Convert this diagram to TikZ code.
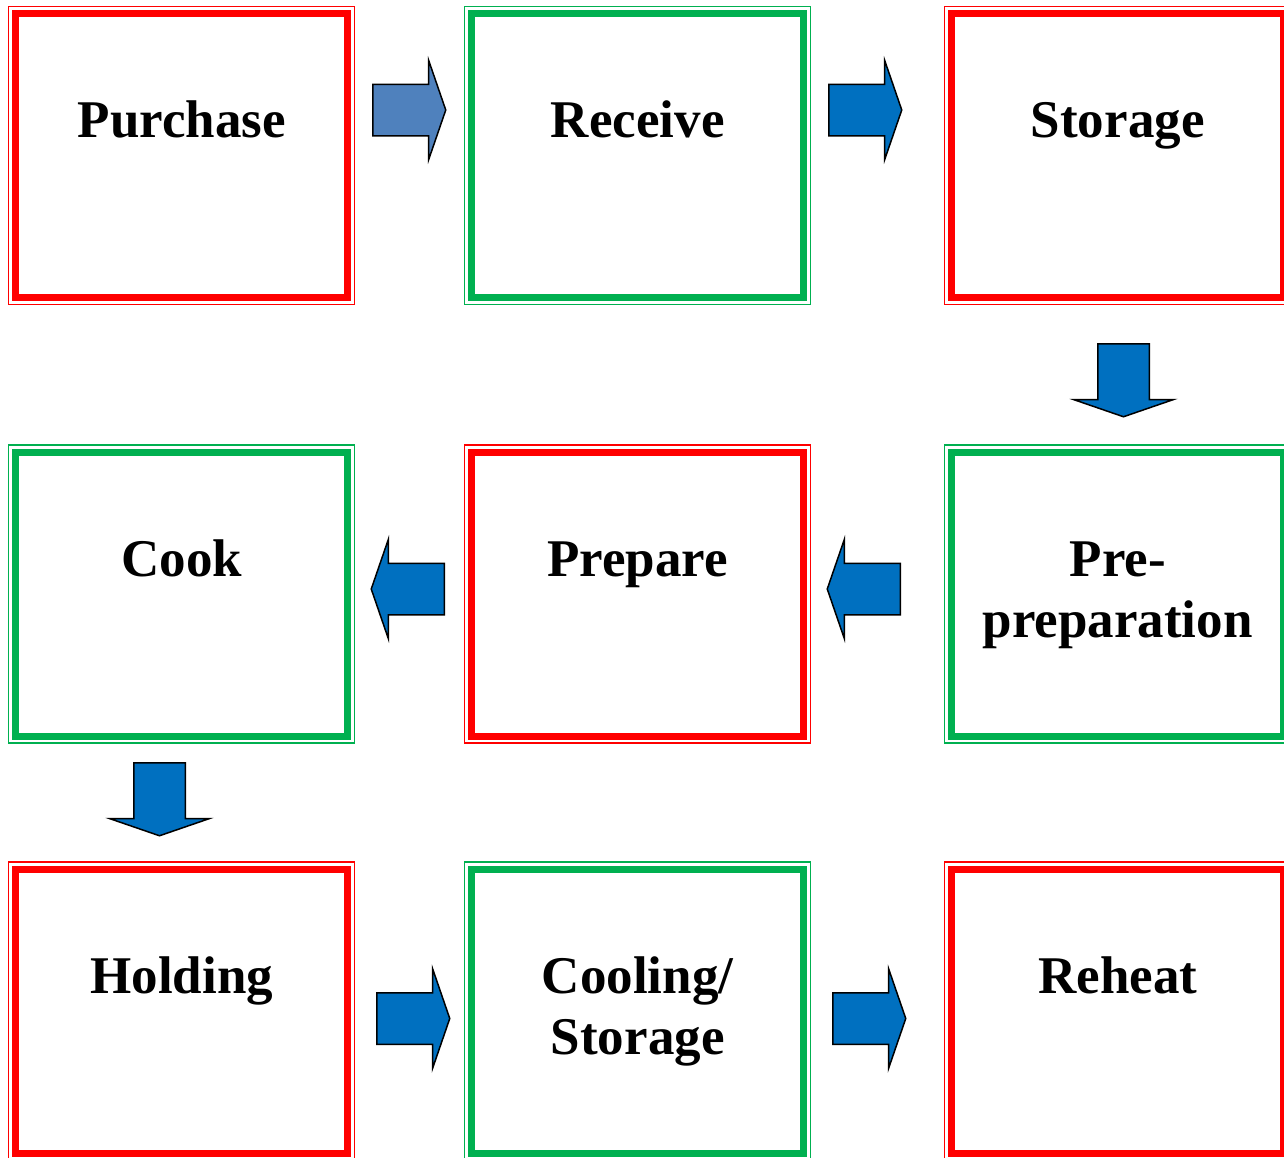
\documentclass[tikz,border=0pt]{standalone}
\usepackage{fontspec}
\setmainfont{Liberation Serif}
\usetikzlibrary{shapes.arrows,positioning}
\definecolor{red}{RGB}{255,0,0}
\definecolor{green}{RGB}{0,176,80}
\definecolor{steel}{RGB}{79,129,189}
\definecolor{blue}{RGB}{0,112,192}

\begin{document}
\begin{tikzpicture}[x=1pt,y=1pt,
  every node/.style={font=\fontsize{53}{61}\selectfont\bfseries},
  stage/.style={draw=#1,line width=7pt,minimum width=332pt,minimum height=284pt,
    inner sep=0pt,outer sep=0pt,align=center,text height=124pt,text depth=160pt},
  twoline/.style={text height=185pt,text depth=99pt},
  frame/.style={draw=#1,line width=1.3pt},
  blk/.style={single arrow,draw=black,line width=1.5pt,fill=#1,minimum height=73pt,
    single arrow head extend=24pt,single arrow tip angle=142,anchor=tail,
    single arrow head indent=0pt,inner xsep=0pt,inner ysep=25pt}]
\useasboundingbox (0,0) rectangle (1284,-1157);
% stages
\node[stage=red] (purchase) at (181.7,-155.5) {Purchase};
\node[stage=green,right=124pt of purchase] (receive) {Receive};
\node[stage=red,right=148pt of receive] (storage) {Storage};
\node[stage=green,twoline,below=154.5pt of storage] (preprep) {Pre-\\preparation};
\node[stage=red,below=154.5pt of receive] (prepare) {Prepare};
\node[stage=green,below=154.5pt of purchase] (cook) {Cook};
\node[stage=red,below=133pt of cook] (holding) {Holding};
\node[stage=green,twoline,below=133pt of prepare] (cooling) {Cooling/\\Storage};
\node[stage=red,below=133pt of preprep] (reheat) {Reheat};
% thin outer frames
\foreach \n/\c in {purchase/red,receive/green,storage/red,preprep/green,prepare/red,
    cook/green,holding/red,cooling/green,reheat/red}
  \draw[frame=\c] ([shift={(-7,7)}]\n.north west) rectangle ([shift={(7,-7)}]\n.south east);
% block arrows
\node[blk=steel] (a1) at (372,-110) {};
\node[blk=blue] (a2) at (828,-110) {};
\node[blk=blue,rotate=-90] (a3) at (1123.5,-343) {};
\node[blk=blue,rotate=180] (a4) at (901,-589) {};
\node[blk=blue,rotate=180] (a5) at (445,-589) {};
\node[blk=blue,rotate=-90] (a6) at (159.5,-762) {};
\node[blk=blue] (a7) at (376,-1018.5) {};
\node[blk=blue] (a8) at (832,-1018.5) {};
\end{tikzpicture}
\end{document}
